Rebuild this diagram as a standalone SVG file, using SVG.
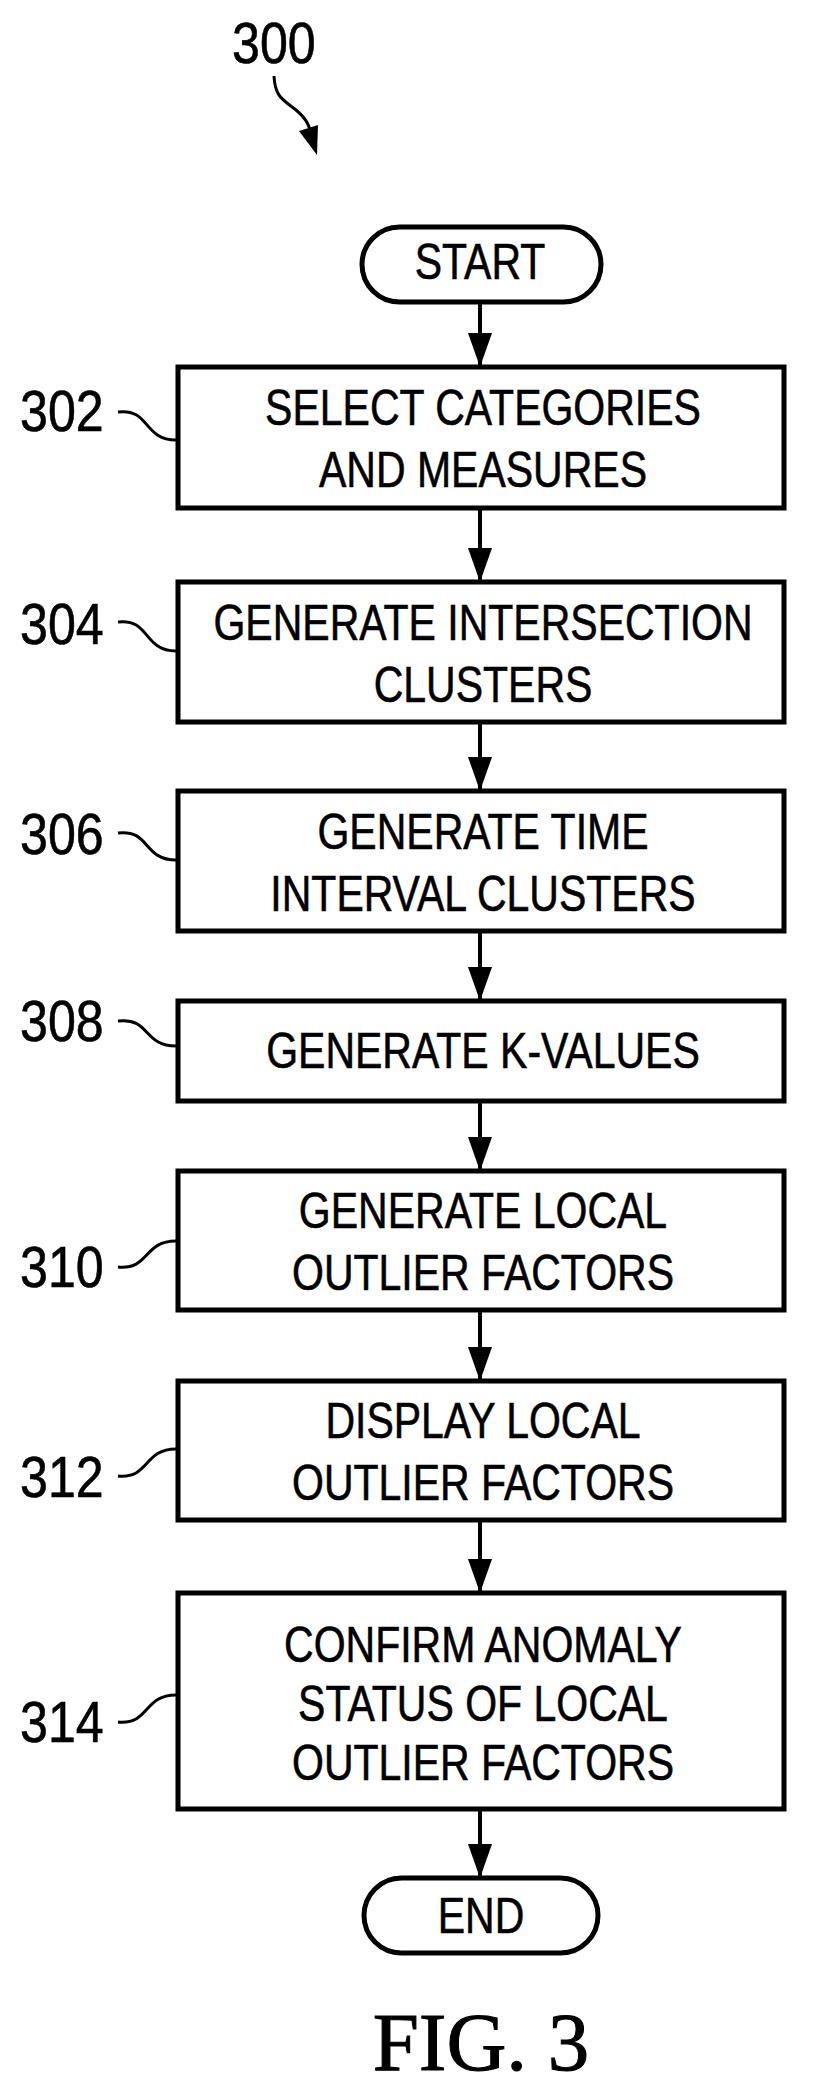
<svg xmlns="http://www.w3.org/2000/svg" width="815" height="2091" viewBox="0 0 815 2091">
<style>
.box{fill:#fff;stroke:#000;stroke-width:5}
.t{font-family:"Liberation Sans",Arial,sans-serif;font-size:50px;text-anchor:middle;fill:#000;stroke:#000;stroke-width:0.6}
.lbl{font-family:"Liberation Sans",Arial,sans-serif;font-size:57px;fill:#000;stroke:#000;stroke-width:0.6}
.tl{fill:none;stroke:#000;stroke-width:3}
.c{stroke:#000;stroke-width:4;fill:none}
</style>
<defs>
<marker id="a2" markerUnits="userSpaceOnUse" markerWidth="34" markerHeight="24" viewBox="0 0 34 24" refX="33" refY="12" orient="auto">
<path d="M0,0 L34,12 L0,24 Z" fill="#000"/>
</marker>
</defs>
<g id="ref300">
<text class="lbl" transform="translate(232,63) scale(0.88,1)">300</text>
<path class="tl" d="M274,76 C275,98 284,100 296,110 C308,120 311,128 310,136"/>
<polygon points="299,131 318,125 317,155"/>
</g>
<g id="start">
<rect class="box" x="362" y="227" width="239" height="75" rx="37.5"/>
<text class="t" transform="translate(480,279) scale(0.82,1)">START</text>
</g>
<g id="n302">
<rect class="box" x="178" y="367" width="606" height="141"/>
<text class="t" transform="translate(483,425) scale(0.82,1)">SELECT CATEGORIES</text>
<text class="t" transform="translate(483,487) scale(0.82,1)">AND MEASURES</text>
<text class="lbl" transform="translate(20,431) scale(0.88,1)">302</text>
<path class="tl" d="M118,412 C150,408 143,440 176,440"/>
</g>
<g id="n304">
<rect class="box" x="178" y="582" width="606" height="140"/>
<text class="t" transform="translate(483,640) scale(0.82,1)">GENERATE INTERSECTION</text>
<text class="t" transform="translate(483,702) scale(0.82,1)">CLUSTERS</text>
<text class="lbl" transform="translate(20,644) scale(0.88,1)">304</text>
<path class="tl" d="M118,622 C150,618 143,651 176,651"/>
</g>
<g id="n306">
<rect class="box" x="178" y="791" width="606" height="140"/>
<text class="t" transform="translate(483,849) scale(0.82,1)">GENERATE TIME</text>
<text class="t" transform="translate(483,911) scale(0.82,1)">INTERVAL CLUSTERS</text>
<text class="lbl" transform="translate(20,854) scale(0.88,1)">306</text>
<path class="tl" d="M118,833 C150,829 143,860 176,860"/>
</g>
<g id="n308">
<rect class="box" x="178" y="1001" width="606" height="100"/>
<text class="t" transform="translate(483,1068) scale(0.82,1)">GENERATE K-VALUES</text>
<text class="lbl" transform="translate(20,1041) scale(0.88,1)">308</text>
<path class="tl" d="M118,1021 C150,1017 143,1046 176,1046"/>
</g>
<g id="n310">
<rect class="box" x="178" y="1171" width="606" height="139"/>
<text class="t" transform="translate(483,1228) scale(0.82,1)">GENERATE LOCAL</text>
<text class="t" transform="translate(483,1290) scale(0.82,1)">OUTLIER FACTORS</text>
<text class="lbl" transform="translate(20,1287) scale(0.88,1)">310</text>
<path class="tl" d="M118,1267 C150,1270 143,1241 176,1241"/>
</g>
<g id="n312">
<rect class="box" x="178" y="1381" width="606" height="139"/>
<text class="t" transform="translate(483,1438) scale(0.82,1)">DISPLAY LOCAL</text>
<text class="t" transform="translate(483,1500) scale(0.82,1)">OUTLIER FACTORS</text>
<text class="lbl" transform="translate(20,1497) scale(0.88,1)">312</text>
<path class="tl" d="M118,1476 C150,1479 143,1449 176,1449"/>
</g>
<g id="n314">
<rect class="box" x="178" y="1593" width="606" height="216"/>
<text class="t" transform="translate(483,1662) scale(0.82,1)">CONFIRM ANOMALY</text>
<text class="t" transform="translate(483,1721) scale(0.82,1)">STATUS OF LOCAL</text>
<text class="t" transform="translate(483,1780) scale(0.82,1)">OUTLIER FACTORS</text>
<text class="lbl" transform="translate(20,1742) scale(0.88,1)">314</text>
<path class="tl" d="M118,1722 C150,1725 143,1695 176,1695"/>
</g>
<g id="end">
<rect class="box" x="364" y="1878" width="234" height="75" rx="37.5"/>
<text class="t" transform="translate(481,1933) scale(0.82,1)">END</text>
</g>
<g id="connectors">
<line class="c" x1="480" y1="302" x2="480" y2="366" marker-end="url(#a2)"/>
<line class="c" x1="480" y1="508" x2="480" y2="581" marker-end="url(#a2)"/>
<line class="c" x1="480" y1="722" x2="480" y2="790" marker-end="url(#a2)"/>
<line class="c" x1="480" y1="931" x2="480" y2="1000" marker-end="url(#a2)"/>
<line class="c" x1="480" y1="1101" x2="480" y2="1170" marker-end="url(#a2)"/>
<line class="c" x1="480" y1="1310" x2="480" y2="1380" marker-end="url(#a2)"/>
<line class="c" x1="480" y1="1520" x2="480" y2="1592" marker-end="url(#a2)"/>
<line class="c" x1="480" y1="1809" x2="480" y2="1877" marker-end="url(#a2)"/>
</g>
<text id="fig" x="481" y="2070" font-family="'Liberation Serif','Times New Roman',serif" font-size="83" text-anchor="middle" stroke="#000" stroke-width="1">FIG. 3</text>
</svg>
